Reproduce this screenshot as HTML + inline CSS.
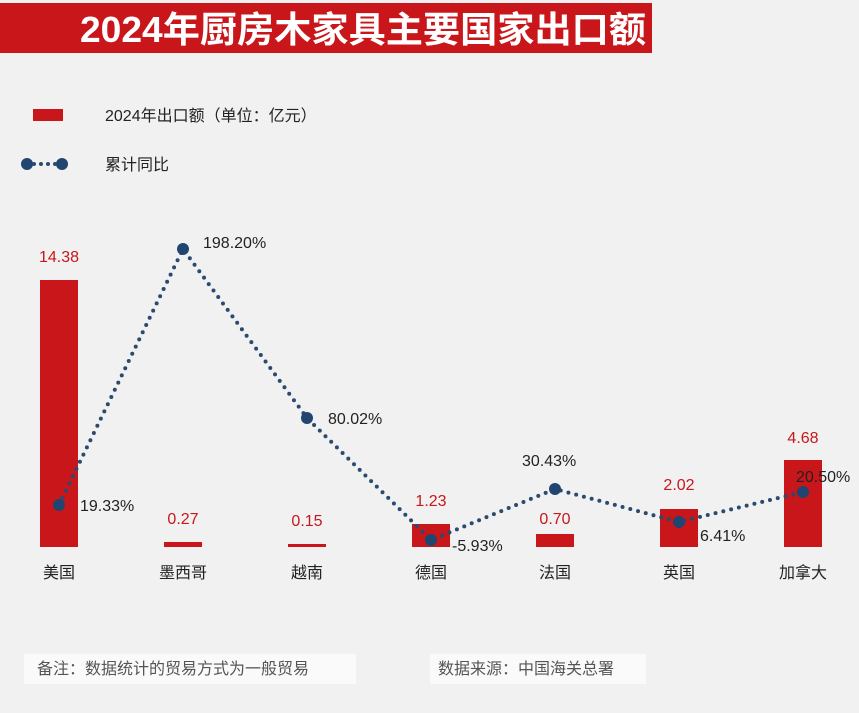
<!DOCTYPE html>
<html><head><meta charset="utf-8"><style>
body{margin:0;width:859px;height:708px;background:#f1f1f1;overflow:hidden;font-family:"Liberation Sans","Noto Sans CJK SC",sans-serif}
</style></head><body>
<svg width="859" height="708" xmlns="http://www.w3.org/2000/svg" style="font-family:'Liberation Sans','Noto Sans CJK SC',sans-serif">
<rect x="0" y="3" width="652" height="50" fill="#c8161a"/>
<text x="80" y="42" font-size="36" font-weight="bold" fill="#fff" textLength="566" lengthAdjust="spacingAndGlyphs">2024年厨房木家具主要国家出口额</text>
<rect x="33" y="109" width="30" height="12" fill="#c8161a"/>
<text x="105" y="121" font-size="16" fill="#222">2024年出口额（单位：亿元）</text>
<line x1="27" y1="164" x2="62" y2="164" stroke="#2a4a70" stroke-width="4" stroke-dasharray="0 7" stroke-linecap="round"/>
<circle cx="27" cy="164" r="6" fill="#1f4570"/><circle cx="62" cy="164" r="6" fill="#1f4570"/>
<text x="105" y="170" font-size="16" fill="#222">累计同比</text>
<g fill="#c8161a">
<rect x="40" y="280" width="38" height="267"/>
<rect x="164" y="542" width="38" height="5"/>
<rect x="288" y="544" width="38" height="3"/>
<rect x="412" y="524" width="38" height="23"/>
<rect x="536" y="534" width="38" height="13"/>
<rect x="660" y="509" width="38" height="38"/>
<rect x="784" y="460" width="38" height="87"/>
</g>
<g font-size="16" fill="#c8161a" text-anchor="middle">
<text x="59" y="262">14.38</text><text x="183" y="524">0.27</text><text x="307" y="526">0.15</text>
<text x="431" y="506">1.23</text><text x="555" y="524">0.70</text><text x="679" y="490">2.02</text><text x="803" y="443">4.68</text>
</g>
<polyline points="59,505 183,249 307,418 431,540 555,489 679,522 803,492" fill="none" stroke="#2a4a70" stroke-width="4" stroke-dasharray="0 8" stroke-linecap="round"/>
<g fill="#1f4570">
<circle cx="59" cy="505" r="6"/><circle cx="183" cy="249" r="6"/><circle cx="307" cy="418" r="6"/><circle cx="431" cy="540" r="6"/><circle cx="555" cy="489" r="6"/><circle cx="679" cy="522" r="6"/><circle cx="803" cy="492" r="6"/>
</g>
<g font-size="16" fill="#222">
<text x="80" y="511">19.33%</text><text x="203" y="248">198.20%</text><text x="328" y="424">80.02%</text>
<text x="452" y="551">-5.93%</text><text x="522" y="466">30.43%</text><text x="700" y="541">6.41%</text><text x="796" y="482">20.50%</text>
</g>
<g font-size="16" fill="#222" text-anchor="middle">
<text x="59" y="578">美国</text><text x="183" y="578">墨西哥</text><text x="307" y="578">越南</text><text x="431" y="578">德国</text><text x="555" y="578">法国</text><text x="679" y="578">英国</text><text x="803" y="578">加拿大</text>
</g>
<rect x="24" y="654" width="332" height="30" fill="#fafafa"/>
<rect x="430" y="654" width="216" height="30" fill="#fafafa"/>
<text x="37" y="674" font-size="16" fill="#555">备注：数据统计的贸易方式为一般贸易</text>
<text x="438" y="674" font-size="16" fill="#555">数据来源：中国海关总署</text>
</svg>
</body></html>
